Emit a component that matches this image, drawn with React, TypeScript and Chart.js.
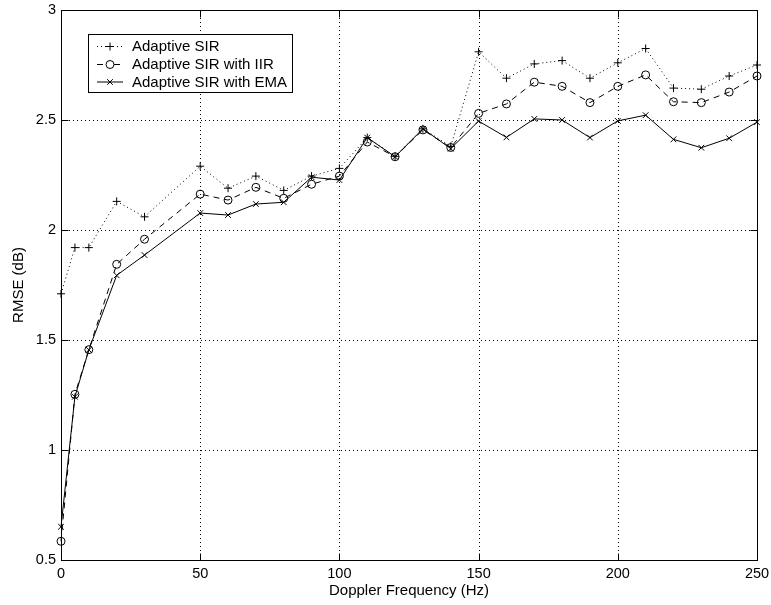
import React, { useEffect, useRef } from "react";
import { Chart, registerables } from "chart.js";

Chart.register(...registerables);

// ---- data ----
const freq = [0, 5, 10, 20, 30, 50, 60, 70, 80, 90, 100, 110, 120, 130, 140, 150, 160, 170, 180, 190, 200, 210, 220, 230, 240, 250];
const sirValues = [1.71, 1.92, 1.92, 2.13, 2.06, 2.29, 2.19, 2.245, 2.18, 2.245, 2.28, 2.42, 2.335, 2.46, 2.38, 2.81, 2.69, 2.755, 2.77, 2.69, 2.76, 2.825, 2.645, 2.64, 2.7, 2.75];
const iirValues = [0.585, 1.253, 1.456, 1.844, 1.958, 2.163, 2.136, 2.194, 2.144, 2.208, 2.245, 2.4, 2.333, 2.455, 2.375, 2.53, 2.573, 2.672, 2.653, 2.579, 2.653, 2.705, 2.583, 2.579, 2.627, 2.7];
const emaValues = [0.651, 1.242, 1.455, 1.794, 1.886, 2.077, 2.068, 2.118, 2.126, 2.24, 2.227, 2.42, 2.333, 2.46, 2.37, 2.495, 2.421, 2.505, 2.5, 2.42, 2.496, 2.522, 2.412, 2.374, 2.417, 2.49];

const seriesNames = ["Adaptive SIR", "Adaptive SIR with IIR", "Adaptive SIR with EMA"];
const xTickValues = [0, 50, 100, 150, 200, 250];
const xTickLabels = ["0", "50", "100", "150", "200", "250"];
const yTickValues = [0.5, 1, 1.5, 2, 2.5, 3];
const yTickLabels = ["0.5", "1", "1.5", "2", "2.5", "3"];
const xTitle = "Doppler Frequency (Hz)";
const yTitle = "RMSE (dB)";

const FONT = "'Liberation Sans', Arial, Helvetica, sans-serif";

function toPoints(vals: number[]) {
  return freq.map((f, i) => ({ x: f, y: vals[i] }));
}

function drawMarker(ctx: CanvasRenderingContext2D, kind: string, x: number, y: number, r: number) {
  ctx.beginPath();
  if (kind === "cross") {
    ctx.moveTo(x - r, y);
    ctx.lineTo(x + r, y);
    ctx.moveTo(x, y - r);
    ctx.lineTo(x, y + r);
  } else if (kind === "circle") {
    ctx.arc(x, y, r, 0, Math.PI * 2);
  } else {
    const d = r * Math.SQRT1_2;
    ctx.moveTo(x - d, y - d);
    ctx.lineTo(x + d, y + d);
    ctx.moveTo(x - d, y + d);
    ctx.lineTo(x + d, y - d);
  }
  ctx.stroke();
}

const framePlugin = {
  id: "matlabFrame",
  beforeDatasetsDraw(chart: any) {
    const { ctx, chartArea } = chart;
    const { left, right, top, bottom } = chartArea;
    const xs = chart.scales.x;
    const ys = chart.scales.y;
    ctx.save();
    ctx.strokeStyle = "#000";
    ctx.lineWidth = 1;
    ctx.setLineDash([1, 3]);
    xTickValues.slice(1, -1).forEach((v) => {
      const px = Math.round(xs.getPixelForValue(v)) + 0.5;
      ctx.beginPath();
      ctx.moveTo(px, top);
      ctx.lineTo(px, bottom);
      ctx.stroke();
    });
    yTickValues.slice(1, -1).forEach((v) => {
      const py = Math.round(ys.getPixelForValue(v)) + 0.5;
      ctx.beginPath();
      ctx.moveTo(left, py);
      ctx.lineTo(right, py);
      ctx.stroke();
    });
    ctx.restore();
  },
  afterDatasetsDraw(chart: any) {
    const { ctx, chartArea } = chart;
    const { left, right, top, bottom } = chartArea;
    const xs = chart.scales.x;
    const ys = chart.scales.y;
    ctx.save();
    ctx.strokeStyle = "#000";
    ctx.lineWidth = 1;
    ctx.setLineDash([]);
    const L = Math.round(left) + 0.5;
    const R = Math.round(right) + 0.5;
    const T = Math.round(top) + 0.5;
    const B = Math.round(bottom) + 0.5;
    ctx.strokeRect(L, T, R - L, B - T);
    const tl = 7;
    xTickValues.forEach((v) => {
      const px = Math.round(xs.getPixelForValue(v)) + 0.5;
      ctx.beginPath();
      ctx.moveTo(px, B);
      ctx.lineTo(px, B - tl);
      ctx.moveTo(px, T);
      ctx.lineTo(px, T + tl);
      ctx.stroke();
    });
    yTickValues.forEach((v) => {
      const py = Math.round(ys.getPixelForValue(v)) + 0.5;
      ctx.beginPath();
      ctx.moveTo(L, py);
      ctx.lineTo(L + tl, py);
      ctx.moveTo(R, py);
      ctx.lineTo(R - tl, py);
      ctx.stroke();
    });

    // legend box
    const bx = 88.5, by = 34.5, bw = 204, bh = 58;
    ctx.fillStyle = "#fff";
    ctx.fillRect(bx, by, bw, bh);
    ctx.strokeRect(bx, by, bw, bh);
    const rows = [46.5, 64.5, 82];
    const kinds = ["cross", "circle", "crossRot"];
    const dashes = [[1, 3], [6, 5], []];
    ctx.font = "15px " + FONT;
    ctx.textBaseline = "middle";
    ctx.textAlign = "left";
    ctx.fillStyle = "#000";
    rows.forEach((ry, i) => {
      ctx.setLineDash(dashes[i]);
      ctx.beginPath();
      if (i === 1) {
        ctx.moveTo(97, ry);
        ctx.lineTo(105, ry);
        ctx.moveTo(114, ry);
        ctx.lineTo(122, ry);
      } else {
        ctx.moveTo(97, ry);
        ctx.lineTo(123, ry);
      }
      ctx.stroke();
      ctx.setLineDash([]);
      drawMarker(ctx, kinds[i], 110, ry, 4);
      ctx.fillText(seriesNames[i], 132, ry + 0.5);
    });
    ctx.restore();
  },
};

export default function App() {
  const canvasRef = useRef<HTMLCanvasElement | null>(null);

  useEffect(() => {
    const canvas = canvasRef.current;
    if (!canvas) return;
    const chart = new Chart(canvas, {
      type: "line",
      data: {
        datasets: [
          {
            label: seriesNames[0],
            data: toPoints(sirValues),
            borderColor: "#000",
            borderWidth: 1,
            borderDash: [1, 3],
            pointStyle: "cross",
            pointRadius: 4,
            pointBorderColor: "#000",
            pointBorderWidth: 1,
            pointBackgroundColor: "rgba(0,0,0,0)",
            fill: false,
            tension: 0,
            clip: false,
          },
          {
            label: seriesNames[1],
            data: toPoints(iirValues),
            borderColor: "#000",
            borderWidth: 1,
            borderDash: [6, 5],
            pointStyle: "circle",
            pointRadius: 4,
            pointBorderColor: "#000",
            pointBorderWidth: 1,
            pointBackgroundColor: "rgba(0,0,0,0)",
            fill: false,
            tension: 0,
            clip: false,
          },
          {
            label: seriesNames[2],
            data: toPoints(emaValues),
            borderColor: "#000",
            borderWidth: 1,
            pointStyle: "crossRot",
            pointRadius: 4,
            pointBorderColor: "#000",
            pointBorderWidth: 1,
            pointBackgroundColor: "rgba(0,0,0,0)",
            fill: false,
            tension: 0,
            clip: false,
          },
        ],
      } as any,
      options: {
        responsive: false,
        animation: false,
        devicePixelRatio: 1,
        layout: { padding: { left: 0, right: 14, top: 10, bottom: 0 } },
        plugins: {
          legend: { display: false },
          tooltip: { enabled: false },
        },
        scales: {
          x: {
            type: "linear",
            min: 0,
            max: 250,
            afterBuildTicks: (s: any) => {
              s.ticks = xTickValues.map((v) => ({ value: v }));
            },
            afterFit: (s: any) => {
              s.height = 45;
              s.paddingLeft = 0;
              s.paddingRight = 0;
            },
            ticks: {
              color: "#000",
              font: { family: FONT, size: 14.5 },
              padding: 5,
              maxRotation: 0,
              autoSkip: false,
              callback: (v: any) => {
                const i = xTickValues.indexOf(Number(v));
                return i >= 0 ? xTickLabels[i] : "";
              },
            },
            grid: { display: false, drawTicks: false },
            border: { display: false },
            title: {
              display: true,
              text: xTitle,
              color: "#000",
              font: { family: FONT, size: 15 },
              padding: { top: 0, bottom: 5 },
            },
          },
          y: {
            type: "linear",
            min: 0.5,
            max: 3,
            afterBuildTicks: (s: any) => {
              s.ticks = yTickValues.map((v) => ({ value: v }));
            },
            afterFit: (s: any) => {
              s.width = 61;
              s.paddingTop = 0;
              s.paddingBottom = 0;
            },
            ticks: {
              color: "#000",
              font: { family: FONT, size: 14.5 },
              padding: 5,
              autoSkip: false,
              callback: (v: any) => {
                const i = yTickValues.indexOf(Number(v));
                return i >= 0 ? yTickLabels[i] : "";
              },
            },
            grid: { display: false, drawTicks: false },
            border: { display: false },
            title: {
              display: true,
              text: yTitle,
              color: "#000",
              font: { family: FONT, size: 15 },
              padding: { top: 10, bottom: 0 },
            },
          },
        },
      } as any,
      plugins: [framePlugin as any],
    });
    return () => chart.destroy();
  }, []);

  return (
    <div style={{ position: "absolute", left: 0, top: 0, width: 771, height: 605, background: "#fff" }}>
      <canvas ref={canvasRef} width={771} height={605} style={{ display: "block" }} />
    </div>
  );
}
